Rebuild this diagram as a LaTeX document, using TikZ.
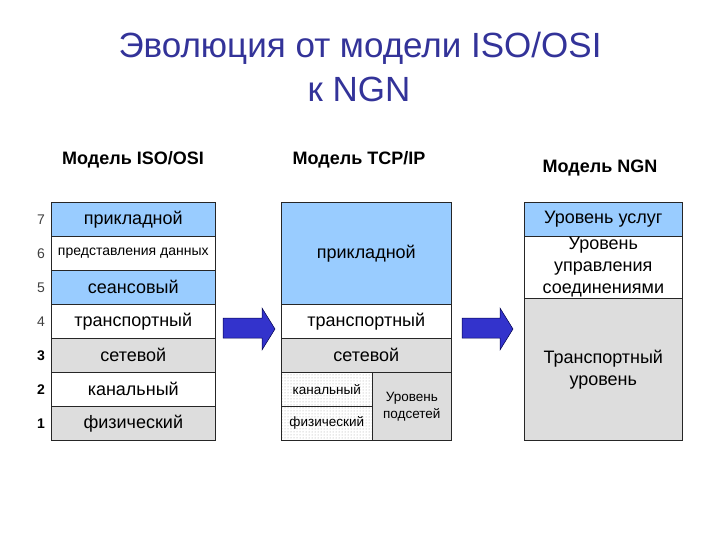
\documentclass[tikz,border=0pt]{standalone}
\usepackage{fontspec}
\setmainfont{Liberation Sans}
\usetikzlibrary{positioning}
\usetikzlibrary{patterns}
\definecolor{layerblue}{RGB}{153,204,255}
\definecolor{layergray}{RGB}{221,221,221}
\definecolor{titleblue}{RGB}{51,51,153}
\definecolor{arrowblue}{RGB}{51,51,204}

\begin{document}
\begin{tikzpicture}[x=1pt, y=-1pt,
  layer/.style={draw=black!85, line width=0.6pt, inner sep=0pt, anchor=north west,
    align=center, font=\fontsize{18}{22}\selectfont},
  smalltext/.style={font=\fontsize{13.5}{17}\selectfont},
  dotted cell/.style={pattern=dots, pattern color=gray!75},
  num/.style={font=\fontsize{14}{16}\selectfont, text=black!75, inner sep=0pt},
  boldnum/.style={num, font=\fontsize{14}{16}\selectfont\bfseries, text=black},
  head/.style={font=\fontsize{18}{20}\selectfont\bfseries, anchor=base},
  titletext/.style={anchor=base, font=\fontsize{35}{38}\selectfont, text=titleblue},
  blockarrow/.style={draw=black!70!blue, line width=0.5pt, fill=arrowblue, line join=miter}]
\useasboundingbox (0,0) rectangle (720,540);
\def\rowh{34}

% title
\node[titletext] (title1) at (360,58) {Эволюция от модели ISO/OSI};
\node[titletext] (title2) at (359,102) {к NGN};

% headers
\node[head] (hosi) at (133,165) {Модель ISO/OSI};
\node[head] (htcp) at (359,165) {Модель TCP/IP};
\node[head] (hngn) at (600,173) {Модель NGN};

% ISO/OSI stack
\node[layer, fill=layerblue, minimum width=164, minimum height=\rowh] (osi7) at (51,202) {прикладной};
\node[layer, font=\fontsize{14}{17}\selectfont, fill=white, minimum width=164, minimum height=\rowh] (osi6) at (51,236) {представления данных};
\node[layer, fill=layerblue, minimum width=164, minimum height=\rowh] (osi5) at (51,270) {сеансовый};
\node[layer, fill=white, minimum width=164, minimum height=\rowh] (osi4) at (51,304) {транспортный};
\node[layer, fill=layergray, minimum width=164, minimum height=\rowh] (osi3) at (51,338) {сетевой};
\node[layer, fill=white, minimum width=164, minimum height=\rowh] (osi2) at (51,372) {канальный};
\node[layer, fill=layergray, minimum width=164, minimum height=\rowh] (osi1) at (51,406) {физический};

\node[num, left=6pt of osi7.west] (n7) {7};
\node[num, left=6pt of osi6.west] (n6) {6};
\node[num, left=6pt of osi5.west] (n5) {5};
\node[num, left=6pt of osi4.west] (n4) {4};
\node[boldnum, left=6pt of osi3.west] (n3) {3};
\node[boldnum, left=6pt of osi2.west] (n2) {2};
\node[boldnum, left=6pt of osi1.west] (n1) {1};

% TCP/IP stack
\node[layer, fill=layerblue, minimum width=170, minimum height=102] (tcpapp) at (281,202) {прикладной};
\node[layer, fill=white, minimum width=170, minimum height=\rowh] (tcptr) at (281,304) {транспортный};
\node[layer, fill=layergray, minimum width=170, minimum height=\rowh] (tcpnet) at (281,338) {сетевой};
\node[layer, smalltext, dotted cell, minimum width=91, minimum height=\rowh] (tcpdl) at (281,372) {канальный};
\node[layer, smalltext, dotted cell, minimum width=91, minimum height=\rowh] (tcpph) at (281,406) {физический};
\node[layer, smalltext, fill=layergray, minimum width=79, minimum height=68] (tcpsub) at (372,372)
  {Уровень\\подсетей};

% NGN stack
\node[layer, fill=layerblue, minimum width=158, minimum height=\rowh] (ngnsrv) at (524,202) {Уровень услуг};
\node[layer, fill=white, minimum width=158, minimum height=62] (ngnctl) at (524,236)
  {Уровень\\управления\\соединениями};
\node[layer, fill=layergray, minimum width=158, minimum height=142] (ngntr) at (524,298)
  {Транспортный\\уровень};

% arrows
\draw[blockarrow] (223,318) -- (262,318) -- (262,308) -- (275,329) -- (262,350)
  -- (262,338) -- (223,338) -- cycle;
\draw[blockarrow] (462,318) -- (500,318) -- (500,308) -- (513,329) -- (500,350)
  -- (500,338) -- (462,338) -- cycle;
\end{tikzpicture}
\end{document}
